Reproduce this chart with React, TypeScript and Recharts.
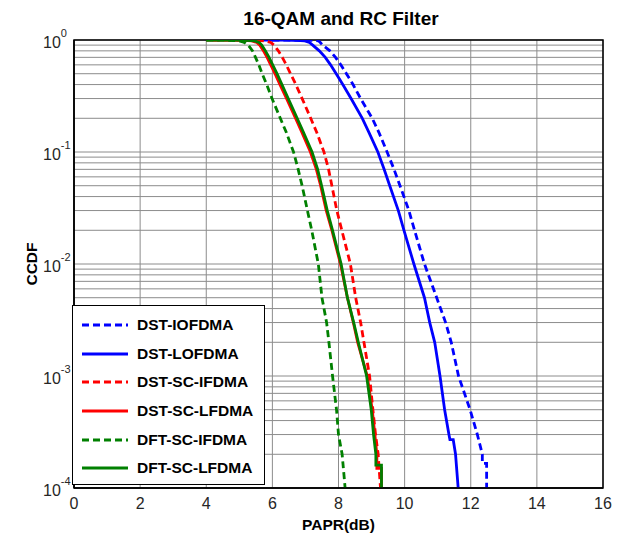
import { LineChart, Line, XAxis, YAxis, CartesianGrid, Legend, ReferenceArea } from 'recharts'

const FONT = '"Liberation Sans", Arial, Helvetica, sans-serif'

// PAPR (dB) points and the CCDF
const dstIofdmaPapr = [6.0, 6.9, 7.3, 7.4, 7.45, 7.52, 7.74, 7.91, 8.07, 8.24, 8.44, 8.67, 9.02, 9.22, 9.47, 9.68, 9.86, 10.13, 10.3, 10.6, 10.97, 11.24, 11.41, 11.63, 11.98, 12.2, 12.35, 12.35, 12.48, 12.48]
const dstIofdmaCcdf = [1, 0.999, 0.99, 0.98, 0.95, 0.9, 0.8, 0.7, 0.6, 0.5, 0.4, 0.3, 0.2, 0.15, 0.1, 0.07, 0.05, 0.03, 0.02, 0.01, 0.005, 0.003, 0.002, 0.001, 5e-4, 3e-4, 2e-4, 1.66e-4, 1.66e-4, 1e-4]

const dstLofdmaPapr = [5.5, 6.4, 6.85, 6.98, 7.12, 7.22, 7.42, 7.6, 7.76, 7.93, 8.13, 8.38, 8.72, 8.92, 9.19, 9.38, 9.55, 9.81, 9.98, 10.28, 10.6, 10.76, 10.91, 11.07, 11.21, 11.34, 11.37, 11.47, 11.54, 11.62]
const dstLofdmaCcdf = [1, 0.999, 0.99, 0.98, 0.95, 0.9, 0.8, 0.7, 0.6, 0.5, 0.4, 0.3, 0.2, 0.15, 0.1, 0.07, 0.05, 0.03, 0.02, 0.01, 0.005, 0.003, 0.002, 0.001, 5e-4, 3e-4, 2.7e-4, 2.7e-4, 2e-4, 1e-4]

const dstScIfdmaPapr = [4.2, 5.2, 5.65, 5.8, 5.95, 6.05, 6.18, 6.3, 6.42, 6.55, 6.71, 6.9, 7.16, 7.34, 7.56, 7.7, 7.8, 7.95, 8.1, 8.36, 8.52, 8.67, 8.77, 8.94, 9.04, 9.12, 9.2, 9.27]
const dstScIfdmaCcdf = [1, 0.999, 0.99, 0.98, 0.95, 0.9, 0.8, 0.7, 0.6, 0.5, 0.4, 0.3, 0.2, 0.15, 0.1, 0.07, 0.05, 0.03, 0.02, 0.01, 0.005, 0.003, 0.002, 0.001, 5e-4, 3e-4, 2e-4, 1e-4]

const dstScLfdmaPapr = [4.0, 4.8, 5.25, 5.38, 5.53, 5.62, 5.73, 5.84, 5.95, 6.08, 6.23, 6.43, 6.7, 6.89, 7.15, 7.33, 7.46, 7.63, 7.8, 8.06, 8.27, 8.45, 8.58, 8.87, 9.02, 9.1, 9.16, 9.16, 9.3, 9.3]
const dstScLfdmaCcdf = [1, 0.999, 0.99, 0.98, 0.95, 0.9, 0.8, 0.7, 0.6, 0.5, 0.4, 0.3, 0.2, 0.15, 0.1, 0.07, 0.05, 0.03, 0.02, 0.01, 0.005, 0.003, 0.002, 0.001, 5e-4, 3e-4, 2e-4, 1.5e-4, 1.5e-4, 1e-4]

const dftScIfdmaPapr = [4.0, 4.5, 4.85, 5.0, 5.15, 5.27, 5.4, 5.49, 5.59, 5.69, 5.83, 5.99, 6.24, 6.42, 6.64, 6.78, 6.9, 7.06, 7.19, 7.39, 7.5, 7.64, 7.71, 7.82, 7.94, 8.0, 8.11, 8.2]
const dftScIfdmaCcdf = [1, 0.999, 0.99, 0.98, 0.95, 0.9, 0.8, 0.7, 0.6, 0.5, 0.4, 0.3, 0.2, 0.15, 0.1, 0.07, 0.05, 0.03, 0.02, 0.01, 0.005, 0.003, 0.002, 0.001, 5e-4, 3e-4, 2e-4, 1e-4]

const dftScLfdmaPapr = [4.0, 4.9, 5.33, 5.46, 5.6, 5.68, 5.79, 5.9, 6.01, 6.14, 6.29, 6.48, 6.75, 6.94, 7.2, 7.37, 7.49, 7.66, 7.82, 8.08, 8.27, 8.46, 8.6, 8.85, 8.99, 9.06, 9.13, 9.13, 9.3, 9.3]
const dftScLfdmaCcdf = [1, 0.999, 0.99, 0.98, 0.95, 0.9, 0.8, 0.7, 0.6, 0.5, 0.4, 0.3, 0.2, 0.15, 0.1, 0.07, 0.05, 0.03, 0.02, 0.01, 0.005, 0.003, 0.002, 0.001, 5e-4, 3e-4, 2e-4, 1.6e-4, 1.6e-4, 1e-4]

const xTicks = [0, 2, 4, 6, 8, 10, 12, 14, 16]
const yDecades = [1e-4, 1e-3, 1e-2, 1e-1, 1]
const decadeExponents = ['-4', '-3', '-2', '-1', '0']
const minorSteps = [2, 3, 4, 5, 6, 7, 8, 9]

// every decade plus its 2..9 multiples, so the grid looks like matlab's log grid
const yGridTicks = yDecades.flatMap((d, i) =>
    i < yDecades.length - 1 ? [d, ...minorSteps.map(m => d * m)] : [d]
)

const toRows = (papr: number[], ccdf: number[]) => papr.map((p, i) => ({ papr: p, ccdf: ccdf[i] }))

const series = [
    { name: 'DST-IOFDMA', color: '#0000ff', dashed: true, data: toRows(dstIofdmaPapr, dstIofdmaCcdf) },
    { name: 'DST-LOFDMA', color: '#0000ff', dashed: false, data: toRows(dstLofdmaPapr, dstLofdmaCcdf) },
    { name: 'DST-SC-IFDMA', color: '#ff0000', dashed: true, data: toRows(dstScIfdmaPapr, dstScIfdmaCcdf) },
    { name: 'DST-SC-LFDMA', color: '#ff0000', dashed: false, data: toRows(dstScLfdmaPapr, dstScLfdmaCcdf) },
    { name: 'DFT-SC-IFDMA', color: '#008000', dashed: true, data: toRows(dftScIfdmaPapr, dftScIfdmaCcdf) },
    { name: 'DFT-SC-LFDMA', color: '#008000', dashed: false, data: toRows(dftScLfdmaPapr, dftScLfdmaCcdf) },
]

const DASH = '7 4'

const YTick = ({ x, y, payload }: any) => {
    const idx = yDecades.indexOf(payload.value)
    if (idx < 0) return <g />
    return (
        <text x={x - 31} y={y + 7.5} fill="#262626" fontSize={16} fontFamily={FONT}>
            10<tspan dy={-11} fontSize={11}>{decadeExponents[idx]}</tspan>
        </text>
    )
}

const XTitle = ({ viewBox }: any) => {
    const vb = viewBox || { x: 74, y: 488, width: 529, height: 49 }
    return (
        <text x={vb.x + vb.width / 2} y={vb.y + 42} textAnchor="middle" fontSize={15.5} fontWeight="bold" fontFamily={FONT} fill="#000">
            PAPR(dB)
        </text>
    )
}

const YTitle = ({ viewBox }: any) => {
    const vb = viewBox || { x: 0, y: 40, width: 74, height: 448 }
    const cx = vb.x + 37
    const cy = vb.y + vb.height / 2
    return (
        <text x={cx} y={cy} transform={`rotate(-90, ${cx}, ${cy})`} textAnchor="middle" fontSize={15.5} fontWeight="bold" fontFamily={FONT} fill="#000">
            CCDF
        </text>
    )
}

const LegendBox = () => (
    <div style={{
        width: 193,
        height: 180,
        boxSizing: 'border-box',
        border: '1px solid #000',
        background: '#fff',
        paddingTop: 5,
        fontFamily: FONT,
    }}>
        {series.map(s => (
            <div key={s.name} style={{ height: 28.6, display: 'flex', alignItems: 'center' }}>
                <svg width={46} height={6} style={{ marginLeft: 9, marginRight: 9 }}>
                    <line x1={0} y1={3} x2={46} y2={3} stroke={s.color} strokeWidth={2.8} strokeDasharray={s.dashed ? DASH : undefined} />
                </svg>
                <span style={{ fontSize: 15.5, fontWeight: 'bold', color: '#000', whiteSpace: 'nowrap' }}>{s.name}</span>
            </div>
        ))}
    </div>
)

export default function App() {
    return (
        <div style={{ position: 'absolute', left: 0, top: 0, width: 617, height: 537, background: '#fff' }}>
            <div style={{
                position: 'absolute',
                left: 241,
                top: 9,
                width: 200,
                textAlign: 'center',
                fontFamily: FONT,
                fontSize: 19,
                lineHeight: '19px',
                fontWeight: 'bold',
                color: '#000',
                whiteSpace: 'nowrap',
            }}>
                16-QAM and RC Filter
            </div>
            <LineChart width={617} height={537} margin={{ top: 40, right: 14, bottom: 0, left: 0 }}>
                <CartesianGrid stroke="#8c8c8c" strokeWidth={1} />
                <XAxis
                    dataKey="papr"
                    type="number"
                    domain={[0, 16]}
                    ticks={xTicks}
                    allowDataOverflow
                    height={49}
                    tickLine={false}
                    tickSize={0}
                    tickMargin={10}
                    tick={{ fill: '#262626', fontSize: 16, fontFamily: FONT }}
                    axisLine={{ stroke: '#000', strokeWidth: 1.5 }}
                    label={{ content: XTitle }}
                />
                <YAxis
                    dataKey="ccdf"
                    type="number"
                    scale="log"
                    domain={[1e-4, 1]}
                    ticks={yGridTicks}
                    interval={0}
                    allowDataOverflow
                    width={74}
                    tickLine={false}
                    tickSize={0}
                    tickMargin={0}
                    tick={<YTick />}
                    axisLine={{ stroke: '#000', strokeWidth: 1.5 }}
                    label={{ content: YTitle }}
                />
                <ReferenceArea x1={0} x2={16} y1={1e-4} y2={1} fill="none" stroke="#000" strokeWidth={1.5} />
                {series.map(s => (
                    <Line
                        key={s.name}
                        data={s.data}
                        dataKey="ccdf"
                        name={s.name}
                        type="linear"
                        stroke={s.color}
                        strokeWidth={2.8}
                        strokeDasharray={s.dashed ? DASH : undefined}
                        dot={false}
                        activeDot={false}
                        isAnimationActive={false}
                    />
                ))}
                <Legend
                    layout="vertical"
                    align="center"
                    verticalAlign="middle"
                    content={<LegendBox />}
                    wrapperStyle={{ left: 72, top: 305, width: 193, height: 180 }}
                />
            </LineChart>
        </div>
    )
}
